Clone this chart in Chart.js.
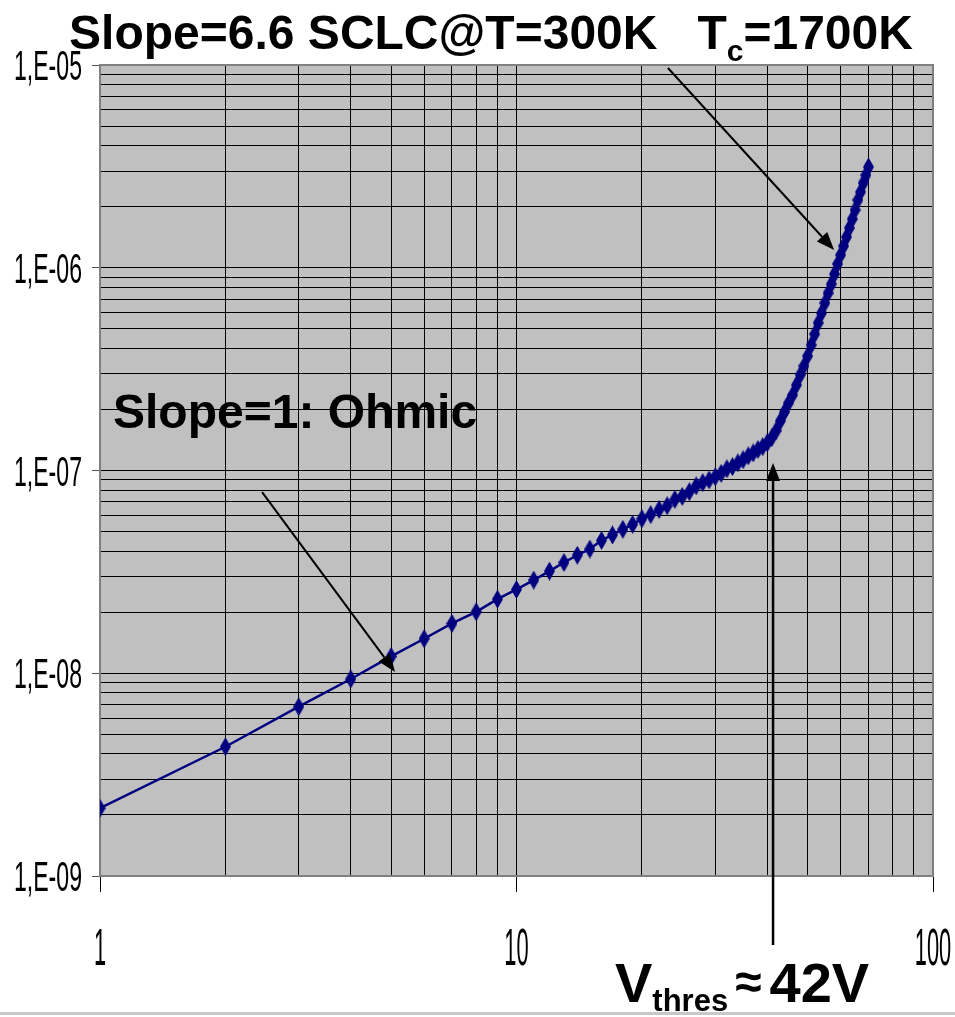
<!DOCTYPE html>
<html>
<head>
    <title>SCLC I-V</title>
    <script src="https://cdn.jsdelivr.net/npm/chart.js"></script>
    <style>
        body { margin: 0; background: #fff; }
        #box { width: 955px; height: 1017px; position: relative; }
    </style>
</head>
<body>
    <div id="box">
        <canvas id="ivChart"></canvas>
    </div>

    <script>
        // Voltage (V) and current (A)
        const voltage = [1, 2, 3, 4, 5, 6, 7, 8, 9, 10,
            11, 12, 13, 14, 15, 16, 17, 18, 19, 20,
            21, 22, 23, 24, 25, 26, 27, 28, 29, 30,
            31, 32, 33, 34, 35, 36, 37, 38, 39, 40,
            41, 42, 43, 44, 45, 46, 47, 48, 49, 50,
            51, 52, 53, 54, 55, 56, 57, 58, 59, 60,
            61, 62, 63, 64, 65, 66, 67, 68, 69, 70];
        const current = [2.16e-9, 4.34e-9, 6.84e-9, 9.37e-9, 1.21e-8, 1.48e-8, 1.76e-8, 2.01e-8, 2.32e-8, 2.59e-8,
            2.88e-8, 3.19e-8, 3.52e-8, 3.82e-8, 4.10e-8, 4.52e-8, 4.81e-8, 5.13e-8, 5.42e-8, 5.78e-8,
            6.06e-8, 6.42e-8, 6.70e-8, 7.20e-8, 7.45e-8, 7.86e-8, 8.40e-8, 8.71e-8, 8.98e-8, 9.31e-8,
            9.68e-8, 1.02e-7, 1.045e-7, 1.09e-7, 1.13e-7, 1.18e-7, 1.22e-7, 1.27e-7, 1.31e-7, 1.37e-7,
            1.45e-7, 1.57e-7, 1.755e-7, 1.944e-7, 2.153e-7, 2.357e-7, 2.64e-7, 2.96e-7, 3.28e-7, 3.67e-7,
            4.16e-7, 4.71e-7, 5.34e-7, 5.98e-7, 6.70e-7, 7.50e-7, 8.31e-7, 9.31e-7, 1.044e-6, 1.156e-6,
            1.28e-6, 1.418e-6, 1.571e-6, 1.739e-6, 1.927e-6, 2.159e-6, 2.364e-6, 2.618e-6, 2.866e-6, 3.14e-6];

        // axis labels (only the decades carry text)
        const xDecades = [1, 10, 100];
        const xTickLabels = ['1', '10', '100'];
        const yDecades = [1e-9, 1e-8, 1e-7, 1e-6, 1e-5];
        const yTickLabels = ['1,E-09', '1,E-08', '1,E-07', '1,E-06', '1,E-05'];

        // annotation arrows, in data units [V, A]
        const arrows = [
            { from: [23.1, 9.67e-6], to: [57.9, 1.223e-6], width: 2 },
            { from: [2.45, 7.83e-8], to: [5.11, 1.015e-8], width: 2 },
            { from: [41.3, 4.57e-10], to: [41.3, 1.089e-7], width: 2.5 }
        ];

        const FONT = '"Liberation Sans", Arial, sans-serif';

        // gridlines at 1..9 x each decade
        function logTicks(decades) {
            const out = [];
            for (let i = 0; i < decades.length - 1; i++) {
                for (let k = 1; k <= 9; k++) out.push({ value: k * decades[i] });
            }
            out.push({ value: decades[decades.length - 1] });
            return out;
        }
        function isDecade(v) {
            const l = Math.log10(v);
            return Math.abs(l - Math.round(l)) < 1e-6;
        }

        // tall thin diamond marker
        const marker = document.createElement('canvas');
        marker.width = 11;
        marker.height = 19;
        const mctx = marker.getContext('2d');
        mctx.fillStyle = '#000080';
        mctx.beginPath();
        mctx.moveTo(5.5, 0);
        mctx.lineTo(11, 9.5);
        mctx.lineTo(5.5, 19);
        mctx.lineTo(0, 9.5);
        mctx.closePath();
        mctx.fill();

        function drawArrow(ctx, x1, y1, x2, y2, w) {
            const ang = Math.atan2(y2 - y1, x2 - x1);
            const len = 18, half = 7;
            const bx = x2 - len * Math.cos(ang), by = y2 - len * Math.sin(ang);
            ctx.strokeStyle = '#000';
            ctx.fillStyle = '#000';
            ctx.lineWidth = w;
            ctx.beginPath();
            ctx.moveTo(x1, y1);
            ctx.lineTo(bx, by);
            ctx.stroke();
            ctx.beginPath();
            ctx.moveTo(x2, y2);
            ctx.lineTo(bx + half * Math.sin(ang), by - half * Math.cos(ang));
            ctx.lineTo(bx - half * Math.sin(ang), by + half * Math.cos(ang));
            ctx.closePath();
            ctx.fill();
        }

        const plotBack = {
            id: 'plotBack',
            beforeDraw(chart) {
                const a = chart.chartArea, ctx = chart.ctx;
                ctx.save();
                ctx.fillStyle = '#C0C0C0';
                ctx.fillRect(a.left, a.top, a.right - a.left, a.bottom - a.top);
                ctx.restore();
            },
            beforeDatasetsDraw(chart) {
                const a = chart.chartArea, ctx = chart.ctx;
                ctx.save();
                ctx.strokeStyle = '#808080';
                ctx.lineWidth = 2;
                ctx.strokeRect(a.left, a.top, a.right - a.left, a.bottom - a.top);
                ctx.restore();
            }
        };

        const overlay = {
            id: 'overlay',
            afterDraw(chart) {
                const ctx = chart.ctx;
                const xs = chart.scales.x, ys = chart.scales.y;
                ctx.save();
                ctx.fillStyle = '#000';

                // narrow y tick labels
                ctx.font = '42px ' + FONT;
                ctx.textAlign = 'right';
                ctx.textBaseline = 'alphabetic';
                yDecades.forEach((v, i) => {
                    const py = ys.getPixelForValue(v);
                    ctx.save();
                    ctx.translate(82, py + 15);
                    ctx.scale(0.55, 1);
                    ctx.fillText(yTickLabels[i], 0, 0);
                    ctx.restore();
                });

                // narrow x tick labels
                ctx.font = '52px ' + FONT;
                ctx.textAlign = 'center';
                xDecades.forEach((v, i) => {
                    const px = xs.getPixelForValue(v);
                    ctx.save();
                    ctx.translate(px, 965);
                    ctx.scale(0.42, 1);
                    ctx.fillText(xTickLabels[i], 0, 0);
                    ctx.restore();
                });

                // arrows
                arrows.forEach(a => {
                    drawArrow(ctx,
                        xs.getPixelForValue(a.from[0]), ys.getPixelForValue(a.from[1]),
                        xs.getPixelForValue(a.to[0]), ys.getPixelForValue(a.to[1]), a.width);
                });

                ctx.textAlign = 'left';
                // title with subscript
                const big = 'bold 48px ' + FONT, small = 'bold 30px ' + FONT;
                const parts = [
                    ['Slope=6.6 SCLC@T=300K   T', big, 0],
                    ['c', small, 12],
                    ['=1700K', big, 0]
                ];
                let total = 0;
                parts.forEach(p => { ctx.font = p[1]; total += ctx.measureText(p[0]).width; });
                let tx = 491 - total / 2;
                parts.forEach(p => {
                    ctx.font = p[1];
                    ctx.fillText(p[0], tx, 49 + p[2]);
                    tx += ctx.measureText(p[0]).width;
                });

                // ohmic label
                ctx.font = big;
                ctx.fillText('Slope=1: Ohmic', 113, 428);

                // threshold label
                let vx = 615;
                ctx.font = 'bold 56px ' + FONT;
                ctx.fillText('V', vx, 1002);
                vx += ctx.measureText('V').width;
                ctx.font = 'bold 31px ' + FONT;
                ctx.fillText('thres', vx, 1011);
                vx += ctx.measureText('thres').width + 7;
                ctx.font = 'bold 48px ' + FONT;
                ctx.fillText('\u2248', vx, 998);
                vx += ctx.measureText('\u2248').width + 8;
                ctx.font = 'bold 56px ' + FONT;
                ctx.fillText('42V', vx, 1002);

                // slide edge line
                ctx.fillStyle = '#C8C8C8';
                ctx.fillRect(0, 1012, 955, 3);
                ctx.restore();
            }
        };

        const ctx = document.getElementById('ivChart').getContext('2d');
        const chart = new Chart(ctx, {
            type: 'line',
            data: {
                datasets: [{
                    label: 'I(V)',
                    data: voltage.map((v, i) => ({ x: v, y: current[i] })),
                    borderColor: '#000080',
                    backgroundColor: '#000080',
                    borderWidth: 2.5,
                    pointStyle: marker,
                    pointRadius: 5,
                    tension: 0,
                    fill: false
                }]
            },
            options: {
                responsive: true,
                maintainAspectRatio: false,
                animation: false,
                layout: { padding: { left: 0, right: 22, top: 65, bottom: 0 } },
                plugins: {
                    legend: { display: false },
                    tooltip: { enabled: false },
                    title: { display: false }
                },
                scales: {
                    x: {
                        type: 'logarithmic',
                        min: 1,
                        max: 100,
                        afterBuildTicks: s => { s.ticks = logTicks(xDecades); },
                        afterFit: s => { s.height = 141; },
                        ticks: { display: false },
                        border: { display: false },
                        grid: {
                            color: '#000',
                            lineWidth: 1,
                            tickLength: 16,
                            tickColor: c => (c.tick && isDecade(c.tick.value)) ? '#000' : 'rgba(0,0,0,0)'
                        }
                    },
                    y: {
                        type: 'logarithmic',
                        min: 1e-9,
                        max: 1e-5,
                        afterBuildTicks: s => { s.ticks = logTicks(yDecades); },
                        afterFit: s => { s.width = 100; },
                        ticks: { display: false },
                        border: { display: false },
                        grid: {
                            color: '#000',
                            lineWidth: 1,
                            tickLength: 8,
                            tickColor: c => (c.tick && isDecade(c.tick.value)) ? '#555' : 'rgba(0,0,0,0)'
                        }
                    }
                }
            },
            plugins: [plotBack, overlay]
        });
    </script>
</body>
</html>
